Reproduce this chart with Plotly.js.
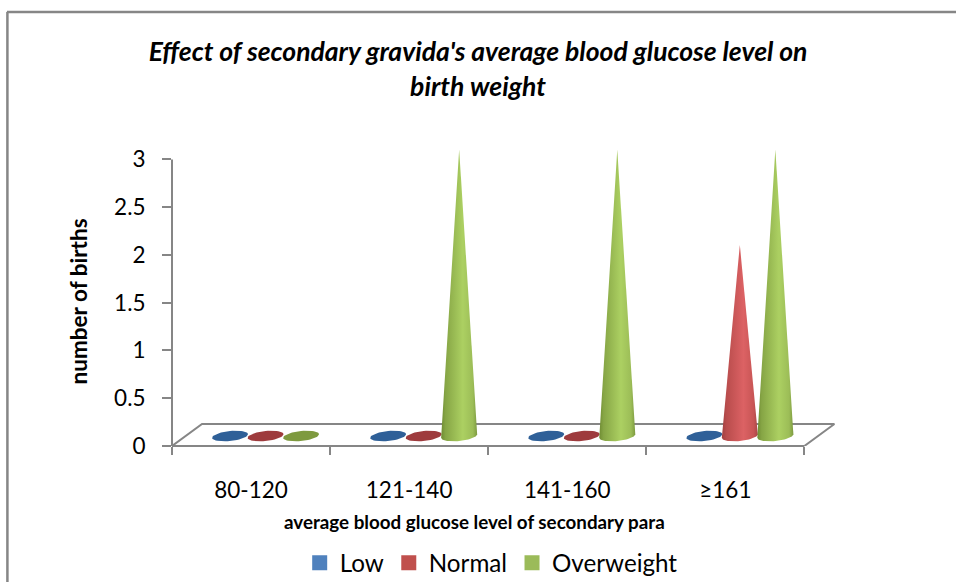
<!DOCTYPE html>
<html>
<head>
<meta charset="utf-8">
<script src="https://cdn.plot.ly/plotly-3.0.1.min.js"></script>
<style>html,body{margin:0;padding:0;background:#fff}</style>
</head>
<body>
<div id="chart" style="width:956px;height:582px"></div>
<script>
const categories = ['80-120', '121-140', '141-160', '≥161'];
const seriesNames = ['Low', 'Normal', 'Overweight'];
const low = [0, 0, 0, 0];
const normal = [0, 0, 0, 2];
const overweight = [0, 3, 3, 3];
const yTicks = [0, 0.5, 1, 1.5, 2, 2.5, 3];
const legendColors = ['#4f81bd', '#c0504d', '#9bbb59'];
const flatColors = ['#2f6098', '#9e3b3d', '#7e9a3f'];
const coneShades = [
  ['#2f5f96', '#3f70aa', '#5a8ccb', '#4c7dba', '#36669f'],
  ['#a04040', '#b84c4c', '#dc6264', '#c85555', '#a84646'],
  ['#6f8c33', '#86a545', '#acd062', '#9cbd57', '#7d9a40']
];

const values = [low, normal, overweight];
const pxX = 158, pxY = 95.5;
const xMax = categories.length + 0.2, yMax = 3.13;
const left = 172, bottom = 446;
const M = {l: left, r: 956 - left - pxX * xMax, t: bottom - pxY * yMax, b: 582 - bottom, autoexpand: false};
const plotW = pxX * xMax, plotH = pxY * yMax;
const depthX = 14.5 / pxX, depthY = 10 / pxY;
const step = 35.5 / pxX, a = 18 / pxX, b = 5 / pxY, tilt = 1.8 / pxY;
const FONT = 'Lato, "Noto Sans", sans-serif';
const AXIS = '#868686';
const paperX = px => (px - left) / plotW;
const paperY = px => (bottom - px) / plotH;

function ellipsePts(cx, cy, from, to, n) {
  const xs = [], ys = [];
  for (let i = 0; i <= n; i++) {
    const t = from + (to - from) * i / n;
    xs.push(cx + a * Math.cos(t));
    ys.push(cy + b * Math.sin(t) + tilt * Math.cos(t));
  }
  return [xs, ys];
}

const traces = [];
// floor of the 3D box
const fx = 30 / pxX, fy = 22 / pxY;
traces.push({
  x: [0, fx, categories.length + fx, categories.length],
  y: [0, fy, fy, 0],
  mode: 'lines', line: {color: AXIS, width: 2},
  showlegend: false, hoverinfo: 'skip'
});

values.forEach((vals, s) => {
  vals.forEach((v, c) => {
    const cx = c + 0.5 + depthX + (s - 1) * step;
    const cy = depthY;
    let tr;
    if (v === 0) {
      const [xs, ys] = ellipsePts(cx, cy, 0, 2 * Math.PI, 48);
      tr = {x: xs, y: ys, fillcolor: flatColors[s]};
    } else {
      const [xs, ys] = ellipsePts(cx, cy, Math.PI, 2 * Math.PI, 30);
      xs.push(cx, xs[0]);
      ys.push(v + depthY, ys[0]);
      const sh = coneShades[s];
      tr = {
        x: xs, y: ys,
        fillgradient: {type: 'horizontal', colorscale: [
          [0, sh[0]], [0.12, sh[1]], [0.6, sh[2]], [0.88, sh[3]], [1, sh[4]]
        ]}
      };
    }
    traces.push(Object.assign(tr, {
      mode: 'lines', fill: 'toself', line: {width: 0},
      showlegend: false,
      name: seriesNames[s], text: categories[c] + ': ' + v, hoverinfo: 'name+text'
    }));
  });
});

seriesNames.forEach((n, s) => {
  traces.push({
    x: [null], y: [null], name: n, mode: 'markers',
    marker: {symbol: 'square', size: 15, color: legendColors[s]},
    showlegend: true, hoverinfo: 'skip'
  });
});

const layout = {
  width: 956, height: 582,
  margin: M,
  paper_bgcolor: '#fff', plot_bgcolor: '#fff',
  font: {family: FONT, color: '#000'},
  title: {
    text: "Effect of secondary gravida's average blood glucose level on<br>birth weight",
    font: {family: FONT, size: 26.5, weight: 700, style: 'italic', color: '#000'},
    x: 0.5, xanchor: 'center', y: 0.8946, yanchor: 'middle'
  },
  xaxis: {
    range: [0, xMax], fixedrange: true,
    tickmode: 'array',
    tickvals: categories.map((_, i) => i + 0.5), ticktext: categories,
    ticks: '', ticklabelstandoff: 28,
    tickfont: {size: 22.5, family: FONT},
    minor: {tickmode: 'array', tickvals: categories.map((_, i) => i).concat(categories.length), ticks: 'outside', ticklen: 8, tickwidth: 2, tickcolor: AXIS, showgrid: false},
    showline: false, showgrid: false, zeroline: false
  },
  yaxis: {
    range: [0, yMax], fixedrange: true,
    tickmode: 'array', tickvals: yTicks,
    ticks: 'outside', ticklen: 9, tickwidth: 2, tickcolor: AXIS,
    ticklabelstandoff: 12,
    tickfont: {size: 22.5, family: FONT},
    showline: false, showgrid: false, zeroline: false
  },
  legend: {
    orientation: 'h', xref: 'paper', yref: 'paper',
    x: paperX(491), xanchor: 'center', y: paperY(563), yanchor: 'middle',
    font: {size: 24.2, family: FONT}, bgcolor: 'rgba(0,0,0,0)'
  },
  annotations: [{
    text: 'average blood glucose level of secondary para',
    xref: 'paper', yref: 'paper',
    x: paperX(474.5), y: paperY(521),
    xanchor: 'center', yanchor: 'middle', showarrow: false,
    font: {size: 18.8, weight: 700, family: FONT}
  }, {
    text: 'number of births',
    xref: 'paper', yref: 'paper',
    x: paperX(79), y: paperY(301.5), textangle: -90,
    xanchor: 'center', yanchor: 'middle', showarrow: false,
    font: {size: 22.5, weight: 700, family: FONT}
  }],
  shapes: [
    {type: 'line', xref: 'paper', yref: 'paper', x0: paperX(7.5), x1: paperX(7.5), y0: paperY(582), y1: paperY(12), line: {color: AXIS, width: 2.5}},
    {type: 'line', xref: 'paper', yref: 'paper', x0: paperX(7), x1: paperX(956), y0: paperY(12), y1: paperY(12), line: {color: AXIS, width: 2.5}},
    {type: 'line', xref: 'paper', yref: 'paper', x0: 0, x1: 0, y0: 0, y1: 3 * pxY / plotH, line: {color: AXIS, width: 2}},
    {type: 'line', xref: 'paper', yref: 'paper', x0: 0, x1: categories.length * pxX / plotW, y0: 0, y1: 0, line: {color: AXIS, width: 2}}
  ]
};
Plotly.newPlot('chart', traces, layout, {displayModeBar: false, responsive: false});
</script>
</body>
</html>
